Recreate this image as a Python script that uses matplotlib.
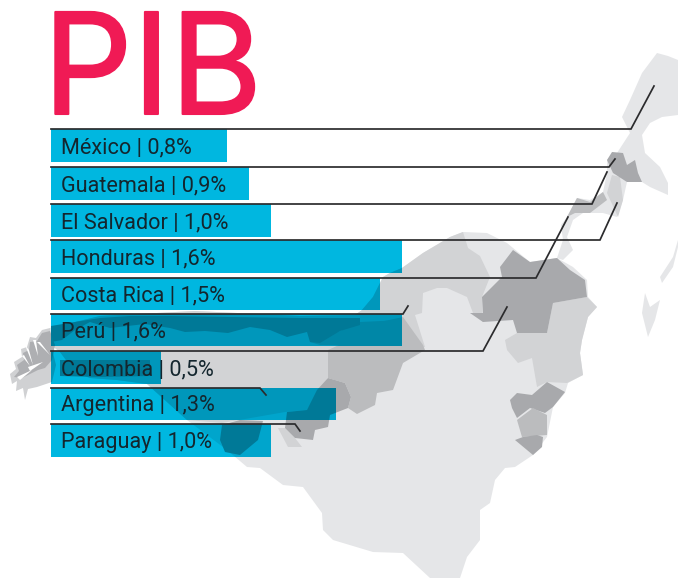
import matplotlib
matplotlib.use("Agg")
import matplotlib.pyplot as plt
import matplotlib.patheffects as pe
from matplotlib.patches import Polygon

countries = ["México", "Guatemala", "El Salvador", "Honduras", "Costa Rica",
             "Perú", "Colombia", "Argentina", "Paraguay"]
pib = [0.8, 0.9, 1.0, 1.6, 1.5, 1.6, 0.5, 1.3, 1.0]
title = "PIB"

# layout (reference pixels)
W, H = 678, 578
BAR_X0 = 51
PX_PER_PCT = 219.5
bar_tops = [129, 167, 204, 240, 278, 314, 351, 388, 424]
bar_bottoms = [162, 200, 237, 273, 310, 346, 384, 420, 457]
leader_kinks = [(631, 129), (609, 167), (592, 204), (600, 240), (536, 278),
                (403, 314), (483, 351), (260, 388), (295, 424)]
leader_ends = [(654, 86), (615, 159), (607, 172), (617, 203), (568, 217),
               (408, 306), (507, 307), (266, 395), (300, 431)]

LIGHT, MID, SOFT, DARK = "#e5e6e8", "#d2d3d5", "#bbbcbe", "#a8a9ac"
CYAN = "#00b7e0"

# decorative backdrop map
base = [(657, 53), (668, 56), (678, 60), (678, 115), (662, 117), (650, 123), (642, 135),
        (645, 153), (660, 167), (668, 183), (668, 195), (650, 187), (642, 182), (627, 182),
        (623, 200), (617, 217), (603, 213), (583, 213), (573, 220), (567, 237), (573, 250),
        (563, 260), (557, 258), (573, 267), (587, 280), (588, 297), (597, 307), (588, 317),
        (582, 340), (580, 353), (583, 375), (568, 383), (565, 393), (553, 407), (547, 437),
        (533, 455), (515, 467), (505, 468), (495, 480), (490, 503), (480, 510), (480, 540),
        (467, 557), (460, 578), (430, 578), (403, 553), (373, 552), (333, 540), (323, 530),
        (322, 513), (303, 487), (283, 485), (260, 468), (247, 467), (227, 450), (187, 420),
        (147, 384), (117, 380), (90, 378), (75, 372), (60, 352), (51, 345), (50, 328),
        (100, 316), (195, 311), (300, 316), (355, 315), (362, 310), (373, 297), (383, 277),
        (390, 273), (402, 268), (423, 253), (450, 237), (463, 232), (487, 233), (507, 243),
        (530, 262), (557, 258), (563, 240), (561, 225), (567, 217), (577, 198), (590, 200),
        (603, 192), (607, 173), (607, 160), (617, 153), (630, 133), (622, 117), (630, 100),
        (642, 73)]
mid_north = [(402, 268), (423, 253), (450, 237), (463, 232), (468, 248), (480, 256), (490, 277),
             (482, 297), (483, 322), (473, 313), (467, 297), (447, 288), (437, 288), (423, 293),
             (422, 313), (415, 315), (425, 347), (328, 350), (328, 378), (307, 410), (285, 412),
             (222, 423), (187, 420), (147, 384), (117, 380), (90, 378), (75, 372), (60, 352),
             (51, 345), (51, 328), (100, 316), (195, 311), (300, 316), (355, 315), (362, 310),
             (373, 297), (383, 277), (390, 273)]
band = [(51, 326), (75, 322), (100, 318), (130, 316), (170, 316), (230, 317), (300, 318),
        (360, 318), (360, 325), (340, 331), (320, 343), (310, 342), (307, 332), (287, 337),
        (270, 330), (250, 327), (228, 333), (205, 331), (185, 332), (170, 328), (145, 324),
        (110, 328), (90, 322), (75, 330), (62, 340), (51, 342)]
soft_east = [(310, 342), (320, 345), (403, 346), (403, 320), (360, 322), (340, 331)]
bolivia = [(403, 317), (423, 345), (425, 350), (403, 363), (393, 390), (377, 393), (375, 405),
           (357, 414), (348, 408), (351, 397), (345, 383), (328, 378), (328, 350), (350, 340),
           (380, 322)]
paraguay = [(328, 378), (317, 390), (307, 410), (287, 412), (285, 428), (295, 438), (313, 440),
            (315, 430), (328, 427), (330, 415), (348, 408), (351, 397), (345, 383), (335, 380)]
strip = [(278, 428), (285, 428), (295, 438), (302, 447), (288, 447)]
blob = [(222, 425), (240, 420), (263, 421), (258, 440), (240, 455), (225, 452), (220, 440)]
patch_col = [(60, 360), (150, 360), (150, 376), (100, 377), (60, 376)]
colombia = [(513, 250), (500, 267), (502, 277), (482, 297), (483, 313), (470, 313), (483, 322),
            (513, 320), (517, 333), (547, 333), (553, 303), (570, 300), (587, 297), (585, 280),
            (570, 270), (557, 258), (530, 262)]
venez = [(553, 303), (587, 297), (597, 307), (588, 317), (582, 340), (580, 353), (583, 375),
         (567, 383), (547, 382), (537, 387), (532, 358), (518, 363), (507, 350), (505, 340),
         (517, 333), (547, 333)]
east1 = [(510, 400), (517, 393), (532, 395), (547, 382), (565, 392), (553, 407), (545, 413),
         (530, 408), (517, 418), (512, 408)]
east2 = [(517, 420), (533, 408), (547, 415), (547, 435), (522, 437)]
east3 = [(515, 440), (523, 437), (537, 435), (543, 437), (542, 447), (533, 455)]
ca_dark = [(607, 160), (612, 152), (623, 153), (627, 165), (635, 160), (638, 173), (642, 182),
           (627, 182), (613, 173)]
ca_mid = [(620, 177), (623, 200), (618, 217), (607, 193), (612, 175)]
ca_soft = [(567, 217), (577, 198), (590, 202), (603, 192), (607, 200), (590, 213), (575, 213)]
island1 = [(673, 257), (660, 277), (662, 283), (673, 267), (678, 247), (678, 240)]
island2 = [(645, 293), (642, 313), (648, 337), (655, 320), (660, 300), (650, 307)]
pat_light = [(50, 328), (42, 330), (36, 338), (30, 337), (27, 347), (21, 349), (22, 357), (14, 362),
             (16, 369), (10, 374), (12, 384), (17, 381), (16, 391), (23, 388), (25, 400), (28, 389),
             (37, 387), (52, 382), (56, 365), (51, 345)]
pat_dark = [(50, 331), (42, 333), (37, 341), (30, 342), (29, 350), (23, 353), (24, 360), (17, 365),
            (19, 371), (14, 377), (22, 378), (30, 374), (38, 370), (45, 368), (52, 360), (55, 345)]
slit1 = [(25, 345), (33, 365), (29, 350)]
slit2 = [(37, 342), (50, 355), (40, 342)]
slit3 = [(28, 367), (43, 362), (30, 371)]
slit4 = [(17, 377), (32, 370), (20, 380)]
slit5 = [(33, 340), (38, 356), (36, 340)]
slit6 = [(22, 356), (30, 366), (24, 355)]

map_shapes = [
    (base, LIGHT), (island1, LIGHT), (island2, LIGHT), (mid_north, MID), (venez, MID),
    (ca_mid, MID), (soft_east, SOFT), (band, DARK), (bolivia, SOFT), (strip, MID),
    (paraguay, DARK), (blob, DARK), (patch_col, DARK), (colombia, DARK), (east1, DARK),
    (east2, SOFT), (east3, DARK), (ca_dark, DARK), (ca_soft, SOFT), (pat_light, "#d0d1d3"),
    (pat_dark, "#aeafb2"), (slit1, "white"), (slit2, "white"), (slit3, "white"),
    (slit4, "white"), (slit5, "white"), (slit6, "white"),
]

fig = plt.figure(figsize=(W / 100, H / 100), dpi=100, facecolor="white")

map_ax = fig.add_axes([0, 0, 1, 1], zorder=0)
map_ax.set_xlim(0, W)
map_ax.set_ylim(H, 0)
map_ax.axis("off")
for pts, col in map_shapes:
    map_ax.add_patch(Polygon(pts, closed=True, facecolor=col, edgecolor="none"))

bar_ax = fig.add_axes([BAR_X0 / W, 0, 1 - BAR_X0 / W, 1], zorder=1)
bar_ax.set_xlim(0, (W - BAR_X0) / PX_PER_PCT)
bar_ax.set_ylim(H, 0)
bar_ax.axis("off")
bar_ax.patch.set_alpha(0)

centers = [(t + b) / 2 for t, b in zip(bar_tops, bar_bottoms)]
heights = [b - t for t, b in zip(bar_tops, bar_bottoms)]
bars = bar_ax.barh(centers, pib, height=heights, color=CYAN, linewidth=0, zorder=2)


def multiply(col):
    a = matplotlib.colors.to_rgb(col)
    b = matplotlib.colors.to_rgb(CYAN)
    return tuple(x * y for x, y in zip(a, b))


# the map shows through the bars as a multiply print
for rect in bars:
    for pts, col in map_shapes:
        p = Polygon(pts, closed=True, facecolor=multiply(col), edgecolor="none",
                    transform=map_ax.transData, zorder=3)
        bar_ax.add_patch(p)
        p.set_clip_path(rect)

for kink, end in zip(leader_kinks, leader_ends):
    xy = [(BAR_X0, kink[1]), kink, end]
    bar_ax.plot([q[0] for q in xy], [q[1] for q in xy], color="#2b2b2d", lw=1.25,
                transform=map_ax.transData, zorder=4, solid_joinstyle="miter", clip_on=False)

for name, v, c in zip(countries, pib, centers):
    label = f"{name} | {v:.1f}%".replace(".", ",")
    fig.text(61 / W, 1 - (c + 2) / H, label, family="Roboto", fontsize=15.6,
             color="#14262e", va="center", ha="left", zorder=6)

fig.text(43 / W, 1 - 114 / H, title, family="Inter", fontsize=101,
         color="#f01a55", va="baseline", ha="left", zorder=6,
         path_effects=[pe.withStroke(linewidth=1.5, foreground="#f01a55")])

fig.savefig("out.png", dpi=100)
